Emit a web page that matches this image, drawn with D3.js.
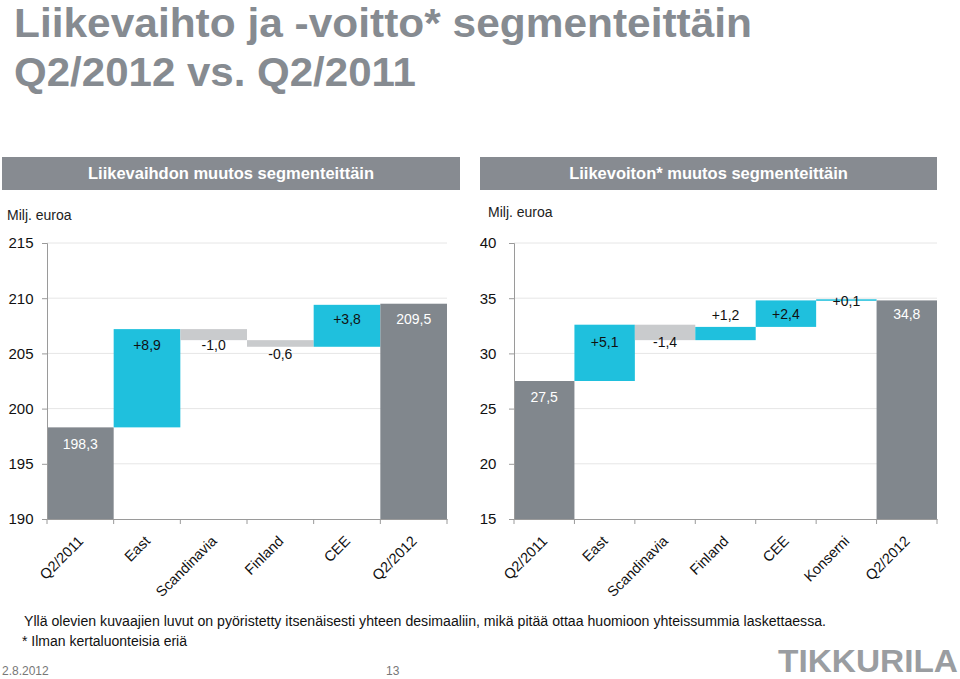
<!DOCTYPE html>
<html><head><meta charset="utf-8">
<script src="https://cdn.jsdelivr.net/npm/d3@7"></script>
<style>body{margin:0;background:#fff}text{font-family:"Liberation Sans",Arial,sans-serif}</style>
</head><body><svg id="c" width="960" height="679"></svg>
<script>
const leftCats = ["Q2/2011","East","Scandinavia","Finland","CEE","Q2/2012"];
const leftStart = 198.3;
const leftDeltas = [8.9,-1.0,-0.6,3.8];
const leftEnd = 209.5;
const leftTicks = [190,195,200,205,210,215];

const rightCats = ["Q2/2011","East","Scandinavia","Finland","CEE","Konserni","Q2/2012"];
const rightStart = 27.5;
const rightDeltas = [5.1,-1.4,1.2,2.4,0.1];
const rightEnd = 34.8;
const rightTicks = [15,20,25,30,35,40];

const svg = d3.select("#c");
const fmt = v => v.toFixed(1).replace(".", ",");
const fmtD = v => (v>0?"+":"") + fmt(v);
const C_TOTAL="#81878d", C_UP="#1fc0dd", C_DOWN="#c9cbcd";

// title
svg.append("text").attr("x",14).attr("y",37).attr("font-size",40).attr("font-weight","bold").attr("fill","#868b91")
  .attr("textLength",738).attr("lengthAdjust","spacingAndGlyphs").text("Liikevaihto ja -voitto* segmenteittäin");
svg.append("text").attr("x",14).attr("y",86).attr("font-size",40).attr("font-weight","bold").attr("fill","#868b91")
  .attr("textLength",402).attr("lengthAdjust","spacingAndGlyphs").text("Q2/2012 vs. Q2/2011");

function waterfall(o){
  const g = svg.append("g");
  g.append("rect").attr("x",o.hx).attr("y",157).attr("width",o.hw).attr("height",33).attr("fill","#878b91");
  g.append("text").attr("x",o.hx+o.hw/2).attr("y",179).attr("text-anchor","middle").attr("font-size",16.5).attr("font-weight","bold").attr("fill","#fff").text(o.header);
  g.append("text").attr("x",o.ux).attr("y",o.uy).attr("font-size",14).attr("fill","#222").text("Milj. euroa");
  const x = d3.scaleBand().domain(o.cats).range([o.x0,o.x1]).padding(0);
  const y = d3.scaleLinear().domain([o.ticks[0],o.ticks[o.ticks.length-1]]).range([519,243]);
  g.selectAll(".gl").data(o.ticks.slice(1)).join("line")
    .attr("x1",o.x0).attr("x2",o.x1).attr("y1",d=>y(d)).attr("y2",d=>y(d))
    .attr("stroke","#e6e6e6").attr("stroke-width",1);
  const bars=[]; let cum=o.start;
  bars.push({c:o.cats[0],y0:o.ticks[0],y1:o.start,type:"t",lab:fmt(o.start)});
  o.deltas.forEach((d,i)=>{const a=cum; cum=+(cum+d).toFixed(2);
    bars.push({c:o.cats[i+1],y0:Math.min(a,cum),y1:Math.max(a,cum),type:d>=0?"u":"d",lab:fmtD(d)});});
  bars.push({c:o.cats[o.cats.length-1],y0:o.ticks[0],y1:o.end,type:"t",lab:fmt(o.end)});
  g.selectAll(".b").data(bars).join("rect")
    .attr("x",d=>x(d.c)).attr("width",x.bandwidth())
    .attr("y",d=>y(d.y1)).attr("height",d=>Math.max(1.5,y(d.y0)-y(d.y1)))
    .attr("fill",d=>d.type==="t"?C_TOTAL:d.type==="u"?C_UP:C_DOWN);
  g.selectAll(".l").data(bars).join("text")
    .attr("x",d=>x(d.c)+x.bandwidth()/2)
    .attr("y",(d,i)=>y(d.y1)+o.labOff[i])
    .attr("text-anchor","middle").attr("font-size",14)
    .attr("fill",d=>d.type==="t"?"#fff":"#111").text(d=>d.lab);
  const ya = g.append("g").attr("transform",`translate(${o.x0},0)`)
    .call(d3.axisLeft(y).tickValues(o.ticks).tickSize(5).tickPadding(4).tickFormat(d3.format("d")));
  ya.select(".domain").attr("stroke","#9a9a9a");
  ya.selectAll(".tick line").attr("stroke","#9a9a9a");
  ya.selectAll(".tick text").attr("font-size",15).attr("fill","#111").attr("text-anchor","middle").attr("dx",-17);
  const xa = g.append("g").attr("transform","translate(0,519)")
    .call(d3.axisBottom(x).tickSize(0).tickFormat(""));
  xa.select(".domain").attr("stroke","#9a9a9a");
  const edges = o.cats.map(c=>x(c)).concat([o.x1]);
  g.selectAll(".et").data(edges).join("line").attr("x1",d=>d).attr("x2",d=>d).attr("y1",519).attr("y2",524).attr("stroke","#9a9a9a");
  g.selectAll(".xl").data(o.cats).join("text")
    .attr("transform",d=>`translate(${x(d)+x.bandwidth()/2+4},${542}) rotate(-45)`)
    .attr("text-anchor","end").attr("font-size",14.5).attr("fill","#111").text(d=>d);
}

waterfall({cats:leftCats,start:leftStart,deltas:leftDeltas,end:leftEnd,ticks:leftTicks,
  x0:47,x1:447,hx:2,hw:458,header:"Liikevaihdon muutos segmenteittäin",ux:7,uy:220,
  labOff:[22,21,21,19,19,20]});
waterfall({cats:rightCats,start:rightStart,deltas:rightDeltas,end:rightEnd,ticks:rightTicks,
  x0:514,x1:937,hx:480,hw:457,header:"Liikevoiton* muutos segmenteittäin",ux:488,uy:217,
  labOff:[21,22,22,-7,19,7,19]});

svg.append("text").attr("x",24).attr("y",626).attr("font-size",14).attr("fill","#111")
  .attr("textLength",802).attr("lengthAdjust","spacingAndGlyphs")
  .text("Yllä olevien kuvaajien luvut on pyöristetty itsenäisesti yhteen desimaaliin, mikä pitää ottaa huomioon yhteissummia laskettaessa.");
svg.append("text").attr("x",22).attr("y",646).attr("font-size",14).attr("fill","#111").text("* Ilman kertaluonteisia eriä");
svg.append("text").attr("x",2).attr("y",675).attr("font-size",12).attr("fill","#777").text("2.8.2012");
svg.append("text").attr("x",386).attr("y",675).attr("font-size",12).attr("fill","#777").text("13");
svg.append("text").attr("x",778).attr("y",672).attr("font-size",32).attr("font-weight","bold")
  .attr("font-family","'Liberation Sans Narrow','Liberation Sans',sans-serif").attr("fill","#9a9da1")
  .attr("textLength",180).attr("lengthAdjust","spacingAndGlyphs").text("TIKKURILA");
</script></body></html>
